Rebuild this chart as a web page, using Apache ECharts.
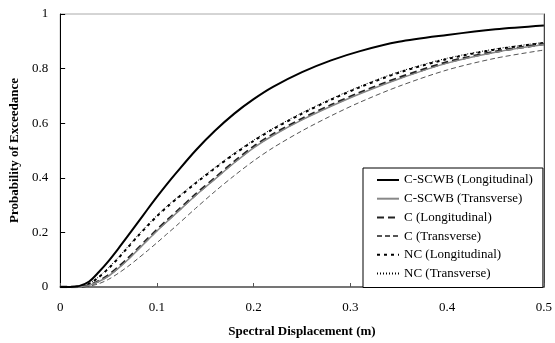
<!DOCTYPE html>
<html><head><meta charset="utf-8">
<script src="https://cdn.jsdelivr.net/npm/echarts@6/dist/echarts.min.js"></script>
<style>html,body{margin:0;padding:0;background:#fff}#c{width:555px;height:343px}</style>
</head><body><div id="c"></div>
<script>
const xValues = [0, 0.01, 0.02, 0.03, 0.04, 0.05, 0.06, 0.07, 0.08, 0.09, 0.10, 0.11, 0.12, 0.14, 0.16, 0.18, 0.20, 0.22, 0.25, 0.28, 0.31, 0.35, 0.40, 0.45, 0.50];
const cscwbLong  = [0, 0, 0.004, 0.02, 0.055, 0.095, 0.14, 0.187, 0.235, 0.283, 0.33, 0.375, 0.418, 0.50, 0.572, 0.635, 0.688, 0.733, 0.787, 0.83, 0.864, 0.898, 0.923, 0.944, 0.958];
const cscwbTrans = [0, 0, 0.001, 0.006, 0.02, 0.04, 0.068, 0.10, 0.135, 0.17, 0.205, 0.238, 0.27, 0.335, 0.395, 0.455, 0.51, 0.555, 0.612, 0.662, 0.708, 0.762, 0.82, 0.86, 0.888];
const cLong      = [0, 0, 0.001, 0.007, 0.022, 0.043, 0.072, 0.104, 0.139, 0.174, 0.209, 0.242, 0.274, 0.339, 0.399, 0.459, 0.514, 0.559, 0.616, 0.666, 0.712, 0.766, 0.823, 0.862, 0.890];
const cTrans     = [0, 0, 0, 0.003, 0.012, 0.028, 0.05, 0.075, 0.103, 0.132, 0.162, 0.193, 0.224, 0.288, 0.35, 0.408, 0.462, 0.51, 0.572, 0.627, 0.677, 0.735, 0.795, 0.838, 0.868];
const ncLong     = [0, 0, 0.002, 0.012, 0.036, 0.068, 0.105, 0.145, 0.185, 0.223, 0.259, 0.292, 0.322, 0.38, 0.435, 0.487, 0.535, 0.578, 0.635, 0.686, 0.732, 0.785, 0.835, 0.87, 0.894];
const ncTrans    = [0, 0, 0.002, 0.013, 0.038, 0.071, 0.108, 0.148, 0.188, 0.226, 0.262, 0.295, 0.325, 0.383, 0.438, 0.49, 0.538, 0.581, 0.638, 0.689, 0.735, 0.788, 0.838, 0.872, 0.896];
const seriesNames = ['C-SCWB (Longitudinal)', 'C-SCWB (Transverse)', 'C (Longitudinal)', 'C (Transverse)', 'NC (Longitudinal)', 'NC (Transverse)'];
const xTicks = [0, 0.1, 0.2, 0.3, 0.4, 0.5];
const yTicks = [0, 0.2, 0.4, 0.6, 0.8, 1];

const FONT = '"Liberation Serif", "Times New Roman", serif';
function pairs(ys) { return xValues.map((x, i) => [x, ys[i]]); }
const styles = [
  {color: '#000', width: 2, type: 'solid'},
  {color: '#888', width: 1.5, type: 'solid'},
  {color: '#222', width: 2.5, type: [7, 4]},
  {color: '#555', width: 1, type: [5, 3]},
  {color: '#000', width: 2, type: [3, 4]},
  {color: '#000', width: 1, type: [1, 2]}
];
const dataSets = [cscwbLong, cscwbTrans, cLong, cTrans, ncLong, ncTrans];
const chart = echarts.init(document.getElementById('c'), null, {renderer: 'canvas'});
chart.setOption({
  animation: false,
  backgroundColor: '#fff',
  grid: {left: 60, right: 6, top: 14, bottom: 52, show: true, borderColor: '#aaa', borderWidth: 1},
  legend: {
    orient: 'vertical', left: 363, top: 168,
    padding: [5, 10, 7, 13],
    backgroundColor: '#fff', borderColor: '#000', borderWidth: 1, borderRadius: 0,
    itemWidth: 22, itemHeight: 14, itemGap: 4.7,
    itemStyle: {opacity: 0},
    data: seriesNames,
    textStyle: {fontFamily: FONT, fontSize: 13, color: '#000', lineHeight: 14}
  },
  xAxis: {
    type: 'value', min: 0, max: 0.5, interval: 0.1,
    name: 'Spectral Displacement (m)', nameLocation: 'middle', nameGap: 38,
    nameTextStyle: {fontFamily: FONT, fontSize: 13, fontWeight: 'bold', color: '#000'},
    axisLine: {show: true, lineStyle: {color: '#555', width: 1.5}},
    axisTick: {show: true, inside: true, length: 4, lineStyle: {color: '#555'}},
    axisLabel: {fontFamily: FONT, fontSize: 13, color: '#000', margin: 14,
      formatter: v => { const t = xTicks.find(k => Math.abs(k - v) < 1e-9); return t === undefined ? '' : String(t); }},
    splitLine: {show: false}
  },
  yAxis: [{
    type: 'value', min: 0, max: 1, interval: 0.2,
    name: 'Probability of Exceedance', nameLocation: 'middle', nameGap: 37, nameRotate: 90,
    nameTextStyle: {fontFamily: FONT, fontSize: 13, fontWeight: 'bold', color: '#000'},
    axisLine: {show: true, lineStyle: {color: '#000', width: 1}},
    axisTick: {show: true, inside: true, length: 5, lineStyle: {color: '#000'}},
    axisLabel: {fontFamily: FONT, fontSize: 13, color: '#000', margin: 12,
      formatter: v => { const t = yTicks.find(k => Math.abs(k - v) < 1e-9); return t === undefined ? '' : String(t); }},
    splitLine: {show: false}
  }, {
    type: 'value', min: 0, max: 1, position: 'right',
    axisLine: {show: true, lineStyle: {color: '#444', width: 1}},
    axisTick: {show: false}, axisLabel: {show: false}, splitLine: {show: false}
  }],
  series: dataSets.map((d, i) => ({
    name: seriesNames[i], type: 'line', smooth: 0.3, showSymbol: false, symbol: 'none',
    data: pairs(d), z: 10 - i,
    lineStyle: {color: styles[i].color, width: styles[i].width, type: styles[i].type},
    itemStyle: {color: styles[i].color}
  }))
});
</script></body></html>
